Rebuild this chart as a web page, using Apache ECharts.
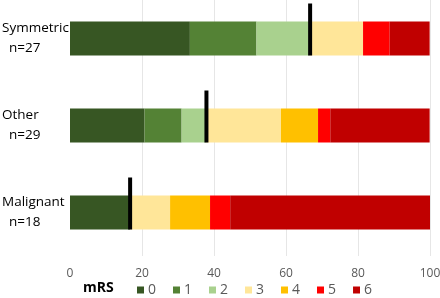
<!DOCTYPE html>
<html>
<head>
<meta charset="utf-8">
<script src="https://cdn.jsdelivr.net/npm/echarts@6/dist/echarts.min.js"></script>
<style>
  html, body { margin: 0; padding: 0; background: #fff; }
  #chart-container { width: 440px; height: 298px; }
</style>
</head>
<body>
<div id="chart-container"></div>
<script>
// groups, top to bottom
var groups = ['Symmetric\n  n=27', 'Other\n  n=29', 'Malignant\n  n=18'];
// percent of patients per mRS score
var mrs0 = [33.3, 20.7, 16.7];
var mrs1 = [18.5, 10.3, 0];
var mrs2 = [14.8, 6.9, 0];
var mrs3 = [14.8, 20.7, 11.1];
var mrs4 = [0, 10.3, 11.1];
var mrs5 = [7.4, 3.4, 5.6];
var mrs6 = [11.1, 27.6, 55.5];
// black marker (mRS 0-2 share)
var markerValues = [66.7, 37.9, 16.7];
var xTicks = [0, 20, 40, 60, 80, 100];

(function () {
    var domChart = document.getElementById('chart-container');
    var ioChart = echarts.init(domChart, null, { renderer: 'canvas' });

    var scores = ['0', '1', '2', '3', '4', '5', '6'];
    var values = [mrs0, mrs1, mrs2, mrs3, mrs4, mrs5, mrs6];
    var colors = ['#375623', '#548235', '#a9d18e', '#ffe699', '#ffc000', '#ff0000', '#c00000'];

    var _seriesData = [];
    for (var i = 0; i < scores.length; i++) {
        _seriesData.push({
            name: scores[i],
            type: 'bar',
            stack: 'mrs',
            barWidth: 34,
            itemStyle: { color: colors[i] },
            data: values[i]
        });
    }
    _seriesData.push({
        name: 'marker',
        type: 'scatter',
        symbol: 'rect',
        symbolSize: [4, 52],
        symbolOffset: [0, -9],
        itemStyle: { color: '#000', opacity: 1 },
        z: 5,
        data: markerValues.map(function (v, idx) { return [v, idx]; })
    });

    var chartOption = {
        backgroundColor: '#fff',
        animation: false,
        textStyle: { fontFamily: 'Open Sans, Liberation Sans, sans-serif' },
        title: {
            text: 'mRS',
            left: 83,
            top: 281,
            padding: 0,
            textStyle: { fontSize: 14, fontWeight: 'bold', color: '#000' }
        },
        legend: {
            data: scores,
            left: 137,
            top: 283,
            padding: 0,
            icon: 'rect',
            itemWidth: 7,
            itemHeight: 7,
            itemGap: 17,
            textStyle: { fontSize: 14, color: '#595959', padding: [0, 0, 0, -1] }
        },
        grid: {
            left: 70,
            right: 10,
            top: -5,
            bottom: 42,
            outerBoundsMode: 'none',
            containLabel: false
        },
        xAxis: {
            type: 'value',
            min: xTicks[0],
            max: xTicks[xTicks.length - 1],
            interval: 20,
            axisLine: { show: false },
            axisTick: { show: false },
            splitLine: { showMinLine: false, lineStyle: { color: '#e6e6e6', width: 1 } },
            axisLabel: { color: '#595959', fontSize: 12, margin: 12 }
        },
        yAxis: {
            type: 'category',
            inverse: true,
            data: groups,
            axisLine: { show: false },
            axisTick: { show: false },
            axisLabel: {
                align: 'left',
                margin: 68,
                color: '#000',
                fontSize: 13.5,
                lineHeight: 20
            }
        },
        series: _seriesData
    };
    ioChart.setOption(chartOption);
})();
</script>
</body>
</html>
